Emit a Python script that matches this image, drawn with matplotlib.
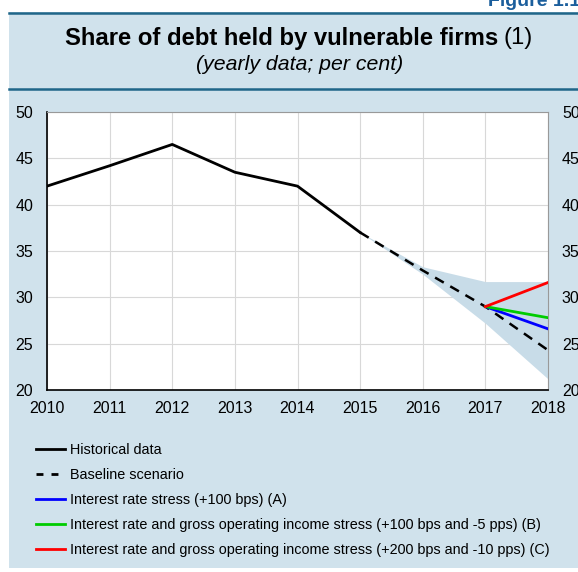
import matplotlib.pyplot as plt
from matplotlib.patches import Rectangle
from matplotlib.lines import Line2D

plt.rcParams['font.family'] = ['Liberation Sans', 'DejaVu Sans']

# dati
hist_years = [2010, 2011, 2012, 2013, 2014, 2015]
hist_vals = [42.0, 44.2, 46.5, 43.5, 42.0, 37.0]

base_years = [2015, 2016, 2017, 2018]
base_vals = [37.0, 32.9, 29.0, 24.3]

band_years = [2015, 2016, 2017, 2018]
band_low = [37.0, 32.5, 27.2, 21.2]
band_high = [37.0, 33.3, 31.7, 31.7]

stress_years = [2017, 2018]
stress_a = [29.0, 26.6]
stress_b = [29.0, 27.8]
stress_c = [29.0, 31.6]

labels = ['Historical data', 'Baseline scenario', 'Interest rate stress (+100 bps) (A)',
          'Interest rate and gross operating income stress (+100 bps and -5 pps) (B)',
          'Interest rate and gross operating income stress (+200 bps and -10 pps) (C)']

W, H = 578, 572
fig = plt.figure(figsize=(W / 100, H / 100), dpi=100)
bg = '#d0e2ec'
fig.patches.append(Rectangle((9 / W, 1 - 568 / H), 1, (568 - 12) / H, transform=fig.transFigure,
                             facecolor=bg, edgecolor='none', zorder=-10))
for yp in [12.5, 88.5]:
    fig.add_artist(Line2D([9 / W, 1], [1 - yp / H, 1 - yp / H], color='#1f6689', lw=1.8))

fig.text(580 / W, 1 - 1 / H, 'Figure 1.1', color='#1b5e9c', fontsize=14, fontweight='bold',
         ha='right', va='center')
t1 = fig.text(65 / W, 1 - 38 / H, 'Share of debt held by vulnerable firms', fontsize=17.2,
              fontweight='bold', ha='left', va='center')
fig.canvas.draw()
bb = t1.get_window_extent()
fig.text(bb.x1 / W + 5 / W, 1 - 38 / H, '(1)', fontsize=17.2, ha='left', va='center')
fig.text(300 / W, 1 - 65 / H, '(yearly data; per cent)', fontsize=15.3, style='italic',
         ha='center', va='center')

ax = fig.add_axes([47 / W, 1 - 390 / H, 501 / W, 278 / H])
ax.set_facecolor('white')
ax.fill_between(band_years, band_low, band_high, color='#c8dce8', lw=0, zorder=1)
ax.plot(hist_years, hist_vals, color='black', lw=2, zorder=3)
ax.plot(base_years, base_vals, color='black', lw=1.8, ls=(0, (4, 3)), zorder=3)
ax.plot(stress_years, stress_a, color='#0000ff', lw=2, zorder=4)
ax.plot(stress_years, stress_b, color='#00cc00', lw=2, zorder=4)
ax.plot(stress_years, stress_c, color='#ff0000', lw=2, zorder=4)

ax.set_xlim(2010, 2018)
ax.set_ylim(20, 50)
ax.set_xticks(range(2010, 2019))
ax.set_yticks(range(20, 51, 5))
ax.grid(color='#d8d8d8', lw=0.8)
ax.set_axisbelow(True)
ax.tick_params(length=0, labelsize=11.5, labelright=True)
ax.tick_params(axis='x', pad=8)
ax.tick_params(axis='y', pad=10)
for s in ['top', 'right']:
    ax.spines[s].set_color('#999999')
    ax.spines[s].set_linewidth(0.8)
for s in ['left', 'bottom']:
    ax.spines[s].set_color('black')
    ax.spines[s].set_linewidth(1.2)

handles = [Line2D([], [], color='black', lw=2),
           Line2D([], [], color='black', lw=2, ls=(0, (2.5, 2.9))),
           Line2D([], [], color='#0000ff', lw=2),
           Line2D([], [], color='#00cc00', lw=2),
           Line2D([], [], color='#ff0000', lw=2)]
fig.legend(handles, labels, loc='upper left', bbox_to_anchor=(23 / W, 1 - 430 / H), frameon=False,
           fontsize=10.4, handlelength=2.0, handletextpad=0.35, labelspacing=0.77)

fig.savefig('out.png', dpi=100)
